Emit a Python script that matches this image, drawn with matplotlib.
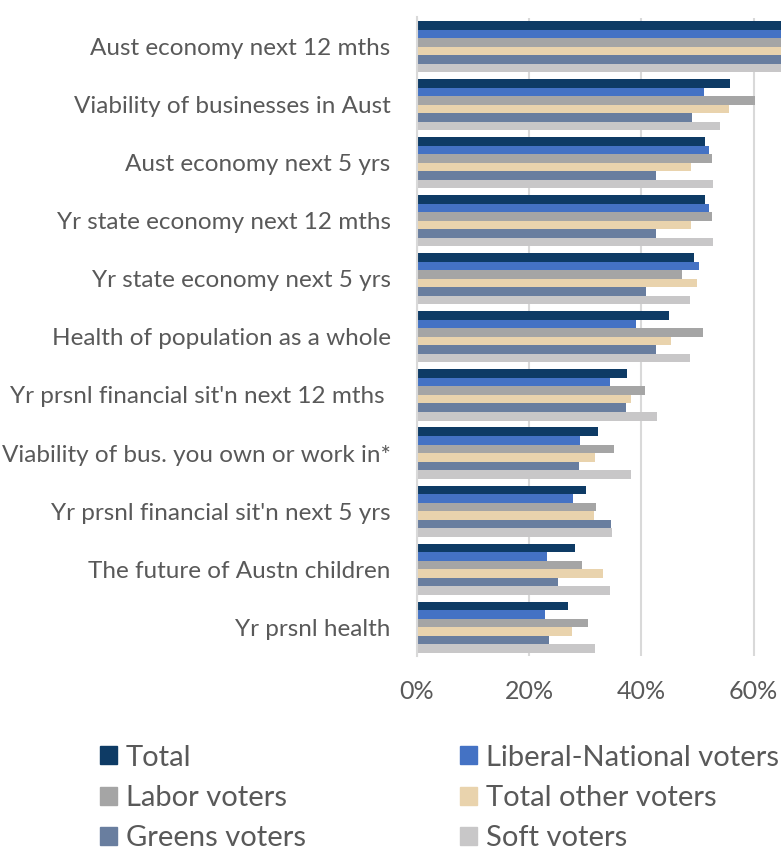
import numpy as np
import matplotlib.pyplot as plt
from matplotlib.patches import Rectangle

categories = ["Aust economy next 12 mths", "Viability of businesses in Aust",
              "Aust economy next 5 yrs", "Yr state economy next 12 mths",
              "Yr state economy next 5 yrs", "Health of population as a whole",
              "Yr prsnl financial sit'n next 12 mths ",
              "Viability of bus. you own or work in*",
              "Yr prsnl financial sit'n next 5 yrs",
              "The future of Austn children", "Yr prsnl health"]

series = ["Total", "Liberal-National voters", "Labor voters",
          "Total other voters", "Greens voters", "Soft voters"]

total = [70, 55.8, 51.4, 51.4, 49.4, 44.9, 37.5, 32.3, 30.2, 28.1, 26.9]
libnat = [72, 51.2, 52.1, 52.1, 50.2, 39.1, 34.4, 29.1, 27.8, 23.2, 22.8]
labor = [71, 60.2, 52.6, 52.6, 47.2, 51.0, 40.6, 35.2, 32.0, 29.4, 30.5]
other = [68, 55.6, 48.8, 48.8, 50.0, 45.2, 38.1, 31.7, 31.6, 33.1, 27.6]
greens = [69, 49.0, 42.7, 42.7, 40.8, 42.7, 37.3, 28.8, 34.6, 25.1, 23.6]
soft = [73, 54.1, 52.7, 52.7, 48.6, 48.6, 42.8, 38.2, 34.8, 34.4, 31.8]

colors = ["#0E3B65", "#4472C4", "#A5A5A5", "#E9D3AD", "#697E9F", "#C8C7C8"]

plt.rcParams['font.family'] = ['Lato', 'DejaVu Sans']

W, H = 781, 850
fig = plt.figure(figsize=(W / 100, H / 100), dpi=100)
ax = fig.add_axes([417 / W, 1 - 656.3 / H, 364 / W, 638.8 / H])

data = [total, libnat, labor, other, greens, soft]
n = len(series)
h = 0.88 / n
y = np.arange(len(categories))
for k in range(n):
    offs = -0.44 + h * (k + 0.5)
    ax.barh(y + offs, data[k], height=h, color=colors[k], zorder=2)

ax.set_ylim(len(categories) - 0.5, -0.5)
ax.set_xlim(0, 64.9)
ax.set_yticks(y)
ax.set_yticklabels(categories)
ax.set_xticks([0, 20, 40, 60])
ax.set_xticklabels(["0%", "20%", "40%", "60%"])
ax.tick_params(axis='y', length=0, pad=19, labelsize=17.5, labelcolor="#595959")
ax.tick_params(axis='x', length=0, pad=17, labelsize=18, labelcolor="#595959")
ax.grid(axis='x', color="#D9D9D9", linewidth=1.5, zorder=0)
for s in ["top", "right", "bottom"]:
    ax.spines[s].set_visible(False)
ax.spines["left"].set_color("#D9D9D9")
ax.spines["left"].set_linewidth(1.5)

# legend, two columns filled row by row
col_x = [99.5, 459.5]
row_y = [755, 796, 836]
box = 17.4
for k, name in enumerate(series):
    bx = col_x[k % 2]
    by = row_y[k // 2]
    fig.add_artist(Rectangle((bx / W, 1 - (by + box / 2) / H), box / W, box / H,
                             transform=fig.transFigure, color=colors[k]))
    fig.text((bx + box + 9) / W, 1 - by / H, name, fontsize=21, color="#595959",
             ha="left", va="center_baseline")

fig.savefig("out.png", dpi=100)
